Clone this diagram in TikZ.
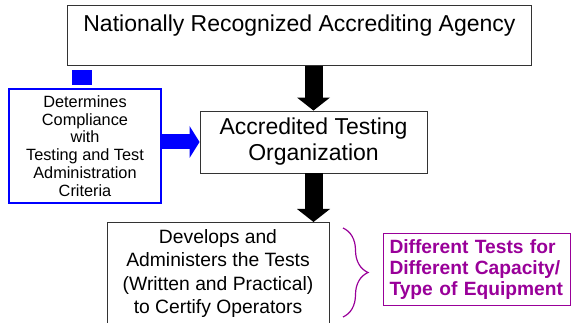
\documentclass[tikz,border=0pt]{standalone}
\usepackage{fontspec}
\setmainfont{Liberation Sans}
\usetikzlibrary{arrows.meta,decorations.pathreplacing}
\definecolor{plum}{RGB}{153,0,153}

\begin{document}
\begin{tikzpicture}[x=1pt,y=-1pt,
	box/.style={draw=black!80,line width=0.9pt,inner sep=0pt,align=center},
	bigarrow/.style={line width=18pt,-{Triangle[width=33pt,length=13pt,line width=0pt]}},
	bluearrow/.style={blue,line width=15pt,-{Triangle[width=32pt,length=10pt,line width=0pt]}}]

	\useasboundingbox (0,0) rectangle (571,323);

	\node[box,anchor=north west,minimum width=464pt,text height=26pt,text depth=34pt,font=\fontsize{23}{26}\selectfont] (agency) at (67,5) {Nationally Recognized Accrediting Agency};
	\node[box,minimum width=227pt,minimum height=62pt,font=\fontsize{23}{26}\selectfont] (ato) at (313.5,142) {Accredited Testing\\Organization};
	\node[box,draw=blue,line width=1.2pt,minimum width=152pt,minimum height=114pt,font=\fontsize{16.3}{17.8}\selectfont] (criteria) at (85,146) {Determines\\Compliance\\with\\Testing and Test\\Administration\\Criteria};
	\node[box,anchor=north,minimum width=222pt,inner ysep=7pt,font=\fontsize{19.3}{23.5}\selectfont] (develops) at (218,222) {Develops and\\Administers the Tests\\(Written and Practical)\\to Certify Operators};
	\node[draw=plum,line width=1pt,text=plum,font=\bfseries\fontsize{19.2}{21}\selectfont,align=left,text width=174pt,inner xsep=6.5pt,inner ysep=0pt,minimum height=72pt] (equip) at (476.5,270) {Different Tests for\\Different Capacity/\\Type of Equipment};

	\fill[blue] (72,70) rectangle (92,85);

	\draw[bigarrow] (ato.north |- agency.south) -- (ato.north);
	\draw[bigarrow] (ato.south) -- (ato.south |- develops.north);
	\draw[bluearrow] (criteria.east |- ato.west) -- (ato.west);

	\draw[plum,line width=1.2pt,decorate,decoration={brace,amplitude=25pt}] (343,228) -- (343,317);
\end{tikzpicture}
\end{document}
